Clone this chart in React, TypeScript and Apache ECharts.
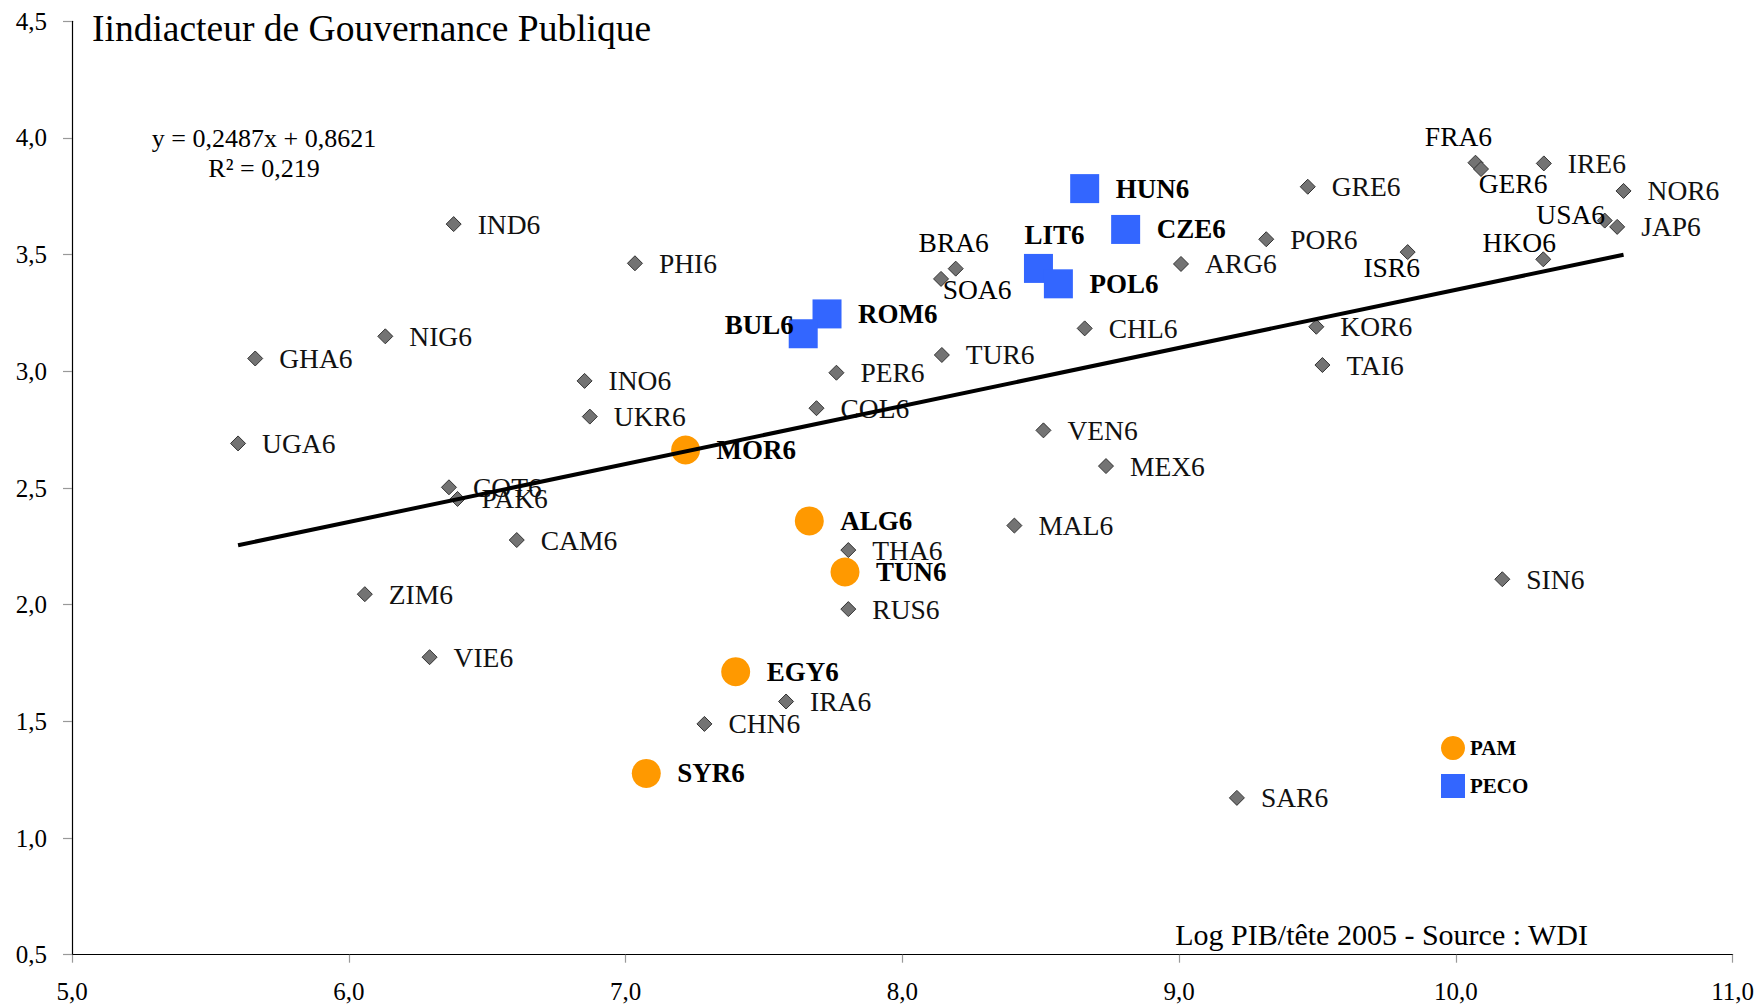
import React, { useEffect, useRef } from 'react';
import * as echarts from 'echarts';

// ---- Data ----
const otherNames = ['IND6','PHI6','NIG6','GHA6','INO6','UKR6','UGA6','COT6','PAK6','CAM6','ZIM6','VIE6','CHN6','IRA6','BRA6','SOA6','PER6','COL6','TUR6','CHL6','VEN6','MEX6','MAL6','THA6','RUS6','ARG6','POR6','GRE6','ISR6','FRA6','GER6','IRE6','NOR6','USA6','JAP6','HKO6','KOR6','TAI6','SIN6','SAR6'];
const otherX = [6.379,7.034,6.132,5.662,6.852,6.871,5.600,6.362,6.393,6.607,6.058,6.292,7.285,7.580,8.193,8.140,7.762,7.690,8.143,8.659,8.510,8.736,8.405,7.805,7.805,9.007,9.315,9.465,9.826,10.071,10.091,10.318,10.606,10.538,10.583,10.316,9.496,9.518,10.168,9.209];
const otherY = [3.631,3.463,3.150,3.055,2.959,2.806,2.691,2.503,2.453,2.277,2.045,1.775,1.489,1.585,3.440,3.396,2.994,2.842,3.070,3.184,2.747,2.594,2.339,2.234,1.981,3.460,3.566,3.791,3.511,3.894,3.867,3.891,3.773,3.646,3.619,3.480,3.191,3.027,2.109,1.172];

const pecoNames = ['HUN6','CZE6','LIT6','POL6','ROM6','BUL6'];
const pecoX = [8.659,8.807,8.492,8.564,7.728,7.642];
const pecoY = [3.783,3.608,3.441,3.375,3.246,3.161];

const pamNames = ['MOR6','ALG6','TUN6','EGY6','SYR6'];
const pamX = [7.217,7.664,7.793,7.398,7.075];
const pamY = [2.663,2.359,2.140,1.713,1.277];

const trendSlope = 0.2487;
const trendIntercept = 0.8621;
const equationText = 'y = 0,2487x + 0,8621';
const r2Text = 'R² = 0,219';

const titleText = 'Iindiacteur de Gouvernance Publique';
const xAxisTitle = 'Log PIB/tête 2005 - Source : WDI';

// label placement overrides (pixel offsets from marker centre)
const labelOffsets: Record<string, [number, number]> = {
  FRA6: [-17, -26],
  GER6: [32, 14],
  USA6: [-34, -6],
  HKO6: [-24, -17],
  ISR6: [-16, 15],
  BRA6: [-2, -26],
  SOA6: [36, 11],
  LIT6: [16, -33],
  BUL6: [-44, -9],
};

const FONT = '"Liberation Serif", "DejaVu Serif", serif';

function buildItems(names: string[], xs: number[], ys: number[], bold: boolean) {
  return names.map((n, i) => {
    const item: any = { name: n, value: [xs[i], ys[i]] };
    const off = labelOffsets[n];
    if (off) {
      item.label = {
        position: 'inside',
        offset: off,
        color: '#000',
        fontWeight: bold ? 'bold' : 'normal',
      };
    }
    return item;
  });
}

const fmt = (v: number) => v.toFixed(1).replace('.', ',');

export default function App() {
  const ref = useRef<HTMLDivElement>(null);

  useEffect(() => {
    if (!ref.current) return;
    const chart = echarts.init(ref.current, undefined, { renderer: 'svg' });

    const allX = [...otherX, ...pecoX, ...pamX];
    const minX = Math.min(...allX);
    const maxX = Math.max(...allX);
    const trendData = [
      [minX, trendSlope * minX + trendIntercept],
      [maxX, trendSlope * maxX + trendIntercept],
    ];

    const axisLabelStyle = {
      fontFamily: FONT,
      fontSize: 25,
      color: '#000',
      formatter: (v: number) => fmt(v),
    };

    chart.setOption({
      animation: false,
      backgroundColor: '#fff',
      grid: { left: 72, right: 22.5, top: 21.3, bottom: 51.3, containLabel: false },
      legend: {
        orient: 'vertical',
        left: 1441,
        top: 736,
        padding: 0,
        itemWidth: 24,
        itemHeight: 24,
        itemGap: 14,
        selectedMode: false,
        textStyle: { fontFamily: FONT, fontSize: 21, fontWeight: 'bold', color: '#000' },
        data: [
          { name: 'PAM', icon: 'circle' },
          { name: 'PECO', icon: 'rect' },
        ],
      },
      xAxis: {
        type: 'value',
        min: 5,
        max: 11,
        interval: 1,
        splitLine: { show: false },
        axisLine: { show: true, onZero: false, lineStyle: { color: '#000', width: 1.2 } },
        axisTick: { show: true, length: 8, lineStyle: { color: '#999', width: 1.2 } },
        axisLabel: { ...axisLabelStyle, margin: 24 },
      },
      yAxis: {
        type: 'value',
        min: 0.5,
        max: 4.5,
        interval: 0.5,
        splitLine: { show: false },
        axisLine: { show: true, onZero: false, lineStyle: { color: '#000', width: 1.2 } },
        axisTick: { show: true, length: 9, lineStyle: { color: '#999', width: 1.2 } },
        axisLabel: { ...axisLabelStyle, margin: 25 },
      },
      series: [
        {
          name: 'Autres',
          type: 'scatter',
          symbol: 'diamond',
          symbolSize: 15,
          z: 2,
          itemStyle: { color: '#737373', borderColor: '#333', borderWidth: 1, opacity: 1 },
          label: {
            show: true,
            formatter: '{b}',
            position: 'right',
            distance: 16,
            fontFamily: FONT,
            fontSize: 27.5,
            color: '#111',
          },
          data: buildItems(otherNames, otherX, otherY, false),
        },
        {
          name: 'PECO',
          type: 'scatter',
          symbol: 'rect',
          symbolSize: 29,
          z: 2,
          itemStyle: { color: '#3366FF', opacity: 1 },
          label: {
            show: true,
            formatter: '{b}',
            position: 'right',
            distance: 16.5,
            fontFamily: FONT,
            fontSize: 27,
            fontWeight: 'bold',
            color: '#000',
          },
          data: buildItems(pecoNames, pecoX, pecoY, true),
        },
        {
          name: 'PAM',
          type: 'scatter',
          symbol: 'circle',
          symbolSize: 29,
          z: 2,
          itemStyle: { color: '#FF9900', opacity: 1 },
          label: {
            show: true,
            formatter: '{b}',
            position: 'right',
            distance: 16.5,
            fontFamily: FONT,
            fontSize: 27,
            fontWeight: 'bold',
            color: '#000',
          },
          data: buildItems(pamNames, pamX, pamY, true),
        },
        {
          name: 'Tendance',
          type: 'line',
          symbol: 'none',
          silent: true,
          z: 4,
          lineStyle: { color: '#000', width: 4 },
          data: trendData,
        },
      ],
      graphic: [
        {
          type: 'text',
          left: 92,
          top: 9,
          style: {
            text: titleText,
            fontFamily: FONT,
            fontSize: 37.5,
            fill: '#000',
          },
        },
        {
          type: 'text',
          x: 264,
          y: 138,
          style: {
            text: equationText,
            fontFamily: FONT,
            fontSize: 26,
            fill: '#000',
            align: 'center',
            verticalAlign: 'middle',
          },
        },
        {
          type: 'text',
          x: 264,
          y: 168,
          style: {
            text: r2Text,
            fontFamily: FONT,
            fontSize: 26,
            fill: '#000',
            align: 'center',
            verticalAlign: 'middle',
          },
        },
        {
          type: 'text',
          x: 1588,
          y: 934,
          style: {
            text: xAxisTitle,
            fontFamily: FONT,
            fontSize: 30,
            fill: '#000',
            align: 'right',
            verticalAlign: 'middle',
          },
        },
      ],
    });

    return () => chart.dispose();
  }, []);

  return (
    <div
      ref={ref}
      style={{ position: 'fixed', left: 0, top: 0, width: 1757, height: 1006, background: '#fff' }}
    />
  );
}
